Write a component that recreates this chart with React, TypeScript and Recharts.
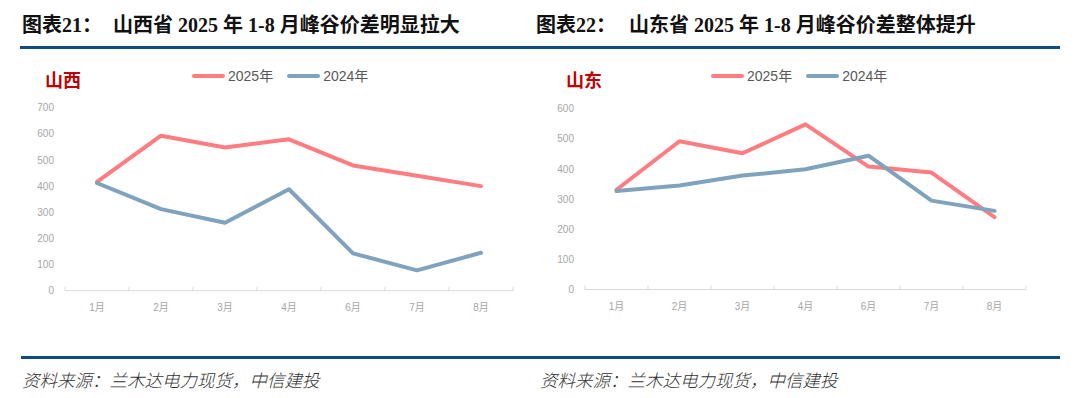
import React from 'react';
import { LineChart, Line, XAxis, YAxis } from 'recharts';

// 月份 (5月无数据)
const months = ['1月', '2月', '3月', '4月', '6月', '7月', '8月'];

// 山西峰谷价差
const shanxi2025 = [416, 593, 548, 579, 479, 440, 400];
const shanxi2024 = [412, 312, 260, 388, 143, 78, 145];

// 山东峰谷价差
const shandong2025 = [331, 492, 452, 548, 408, 388, 240];
const shandong2024 = [327, 345, 378, 399, 444, 295, 261];

const shanxiTicks = [0, 100, 200, 300, 400, 500, 600, 700];
const shandongTicks = [0, 100, 200, 300, 400, 500, 600];
const boundaryTicks = [0, 1, 2, 3, 4, 5, 6, 7];

const COLOR_2025 = '#FF7C80';
const COLOR_2024 = '#7FA3BC';
const RULE = '#0F4C81';
const AXIS = '#D9D9D9';

// pos = category centre on a 0..7 boundary scale, used by the tick-mark axis
const buildRows = (a: number[], b: number[]) =>
  months.map((m, i) => ({ month: m, pos: i + 0.5, y2025: a[i], y2024: b[i] }));

interface PanelProps {
  left: number;
  label: string;
  rows: { month: string; pos: number; y2025: number; y2024: number }[];
  yTicks: number[];
  margin: { top: number; right: number; bottom: number; left: number };
  yWidth: number;
  pad: number;
  legendX: number;
  labelX: number;
}

const tickFont = { fontSize: 10, fill: '#A6A6A6', fontFamily: '"Liberation Sans", Arial, sans-serif' };

const Panel: React.FC<PanelProps> = ({ left, label, rows, yTicks, margin, yWidth, pad, legendX, labelX }) => (
  <div style={{ position: 'absolute', left, top: 0, width: 540, height: 330 }}>
    <div
      style={{
        position: 'absolute',
        left: labelX,
        top: 67,
        fontSize: 18,
        fontWeight: 'bold',
        color: '#C00000',
        fontFamily: '"Noto Sans CJK SC", sans-serif',
        lineHeight: '24px',
      }}
    >
      {label}
    </div>
    <div
      style={{
        position: 'absolute',
        left: legendX,
        top: 66,
        display: 'flex',
        alignItems: 'center',
        fontSize: 14,
        color: '#595959',
        fontFamily: '"Liberation Sans", "Noto Sans CJK SC", sans-serif',
        lineHeight: '20px',
      }}
    >
      <span style={{ width: 33, height: 4, background: COLOR_2025, borderRadius: 2, marginRight: 3 }} />
      <span>2025年</span>
      <span style={{ width: 33, height: 4, background: COLOR_2024, borderRadius: 2, marginLeft: 14, marginRight: 3 }} />
      <span>2024年</span>
    </div>
    <div style={{ position: 'absolute', left: 0, top: 0 }}>
      <LineChart width={540} height={330} data={rows} margin={margin}>
        <XAxis
          xAxisId="cat"
          dataKey="month"
          padding={{ left: pad, right: pad }}
          height={29}
          axisLine={false}
          tickLine={false}
          tickSize={0}
          tickMargin={12}
          tick={{ ...tickFont, fontFamily: '"Liberation Sans", "Noto Sans CJK SC", sans-serif' }}
          interval={0}
        />
        <XAxis
          xAxisId="a"
          dataKey="pos"
          type="number"
          domain={[0, 7]}
          ticks={boundaryTicks}
          allowDataOverflow
          height={1}
          axisLine={{ stroke: AXIS }}
          tickLine={{ stroke: AXIS }}
          tickSize={-4}
          tickFormatter={() => ''}
        />
        <YAxis
          width={yWidth}
          domain={[0, yTicks[yTicks.length - 1]]}
          ticks={yTicks}
          axisLine={false}
          tickLine={false}
          tickSize={0}
          tickMargin={11}
          tick={tickFont}
          interval={0}
        />
        <Line
          xAxisId="a"
          dataKey="y2025"
          stroke="none"
          dot={false}
          activeDot={false}
          legendType="none"
          isAnimationActive={false}
        />
        <Line
          xAxisId="cat"
          type="linear"
          dataKey="y2025"
          stroke={COLOR_2025}
          strokeWidth={4}
          dot={false}
          activeDot={false}
          strokeLinejoin="round"
          strokeLinecap="round"
          isAnimationActive={false}
        />
        <Line
          xAxisId="cat"
          type="linear"
          dataKey="y2024"
          stroke={COLOR_2024}
          strokeWidth={4}
          dot={false}
          activeDot={false}
          strokeLinejoin="round"
          strokeLinecap="round"
          isAnimationActive={false}
        />
      </LineChart>
    </div>
  </div>
);

const titleFont: React.CSSProperties = {
  position: 'absolute',
  top: 11,
  fontSize: 20,
  fontWeight: 'bold',
  color: '#111',
  fontFamily: '"Liberation Serif", "Noto Sans CJK SC", serif',
  lineHeight: '28px',
  whiteSpace: 'nowrap',
};

const sourceFont: React.CSSProperties = {
  position: 'absolute',
  top: 367,
  fontSize: 17.5,
  fontStyle: 'italic',
  color: '#333',
  fontFamily: '"Noto Sans CJK SC", sans-serif',
  fontWeight: 300,
  lineHeight: '26px',
  whiteSpace: 'nowrap',
};

export default function App() {
  return (
    <div style={{ position: 'absolute', left: 0, top: 0, width: 1080, height: 398, background: '#fff', overflow: 'hidden' }}>
      <div style={{ ...titleFont, left: 22 }}>图表21：</div>
      <div style={{ ...titleFont, left: 113 }}>山西省 2025 年 1-8 月峰谷价差明显拉大</div>
      <div style={{ ...titleFont, left: 536 }}>图表22：</div>
      <div style={{ ...titleFont, left: 629 }}>山东省 2025 年 1-8 月峰谷价差整体提升</div>
      <div style={{ position: 'absolute', left: 20, top: 46, width: 1040, height: 3, background: RULE }} />

      <Panel
        left={0}
        label="山西"
        rows={buildRows(shanxi2025, shanxi2024)}
        yTicks={shanxiTicks}
        margin={{ top: 107.7, right: 27, bottom: 9.3, left: 0 }}
        yWidth={65}
        pad={32}
        legendX={192}
        labelX={45}
      />
      <Panel
        left={540}
        label="山东"
        rows={buildRows(shandong2025, shandong2024)}
        yTicks={shandongTicks}
        margin={{ top: 108.7, right: 54, bottom: 10.5, left: 0 }}
        yWidth={45}
        pad={31.5}
        legendX={171}
        labelX={26}
      />

      <div style={{ position: 'absolute', left: 21, top: 356, width: 1039, height: 3, background: RULE }} />
      <div style={{ ...sourceFont, left: 22 }}>资料来源：兰木达电力现货，中信建投</div>
      <div style={{ ...sourceFont, left: 540 }}>资料来源：兰木达电力现货，中信建投</div>
    </div>
  );
}
